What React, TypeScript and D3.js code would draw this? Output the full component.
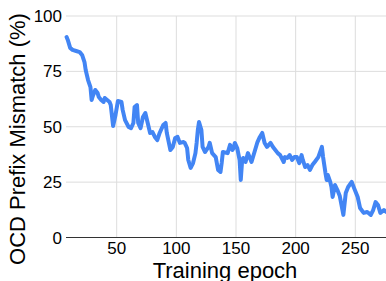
import React, { useEffect, useRef } from "react";
import * as d3 from "d3";

const epochs = [
  8, 9, 11, 13, 16, 19, 21, 23, 24, 25, 26, 28, 29, 30, 32, 34, 35, 37, 39, 40,
  42, 44, 45, 47, 49, 51, 54, 55, 57, 60, 62, 64, 65, 67, 68, 70, 72, 74, 76, 78,
  80, 82, 84, 86, 89, 91, 92, 95, 97, 99, 101, 102, 103, 106, 107, 109, 110, 112, 114, 116,
  117, 118, 119, 121, 122, 124, 127, 128, 130, 133, 135, 137, 138, 139, 143, 145, 147, 148, 149, 151,
  153, 154, 155, 156, 158, 160, 163, 164, 166, 168, 170, 172, 174, 176, 179, 181, 185, 187, 190, 191,
  193, 195, 197, 199, 201, 203, 205, 206, 208, 210, 212, 214, 216, 219, 222, 223, 225, 226, 227, 229,
  230, 231, 233, 235, 237, 240, 242, 244, 247, 249, 252, 254, 257, 260, 263, 265, 267, 269, 271, 274,
  276,
];
const mismatch = [
  90.5, 89.2, 85.6, 84.7, 84.2, 83.7, 82.4, 79.2, 75.6, 73.4, 71.1, 67.9, 62.1, 63.9, 66.6, 65.2, 63.4, 62.1, 61.2, 63.0,
  62.1, 61.2, 59.8, 50.3, 55.3, 61.6, 61.2, 57.6, 53.0, 49.9, 49.4, 51.7, 58.9, 59.8, 51.7, 49.4, 54.4, 56.2, 51.7, 47.2,
  47.6, 45.4, 44.0, 47.2, 50.8, 51.7, 47.2, 39.5, 40.9, 44.9, 45.4, 44.0, 42.7, 43.1, 42.7, 40.4, 35.0, 31.4, 33.6, 38.1,
  42.7, 48.5, 52.1, 48.5, 40.9, 38.6, 40.9, 42.7, 38.1, 36.3, 30.5, 29.6, 33.6, 38.6, 38.1, 41.8, 39.5, 40.4, 42.7, 40.4,
  35.0, 26.0, 33.6, 35.9, 34.1, 38.1, 34.1, 35.9, 39.5, 43.1, 45.4, 47.2, 42.7, 40.9, 42.7, 40.9, 38.1, 37.2, 34.1, 36.3,
  35.9, 37.2, 35.0, 36.3, 36.3, 33.6, 37.2, 35.0, 31.8, 32.7, 30.5, 32.7, 34.1, 36.3, 40.9, 36.3, 29.1, 26.0, 28.2, 25.1,
  22.8, 18.3, 23.7, 21.4, 18.7, 10.2, 20.1, 22.8, 25.1, 22.3, 18.3, 13.3, 11.1, 11.5, 10.2, 12.4, 16.0, 14.7, 11.1, 12.4,
  11.5,
];
const xTicks = [50, 100, 150, 200, 250];
const yTicks = [0, 25, 50, 75, 100];

const W = 386;
const H = 281;
const plotLeft = 66;
const plotRight = 386;
const plotTop = 16;
const plotBottom = 237.5;

const App = () => {
  const ref = useRef(null);

  const x = d3.scaleLinear().domain([50, 250]).range([116.7, 355.3]);
  const y = d3.scaleLinear().domain([0, 100]).range([plotBottom, plotTop]);

  useEffect(() => {
    const g = d3.select(ref.current);
    g.selectAll("*").remove();

    // horizontal grid
    g.selectAll("line.hgrid")
      .data(yTicks.filter((t) => t !== 0))
      .enter()
      .append("line")
      .attr("class", "hgrid")
      .attr("x1", plotLeft)
      .attr("x2", plotRight)
      .attr("y1", (d) => y(d))
      .attr("y2", (d) => y(d))
      .attr("stroke", "#dddddd")
      .attr("stroke-width", 1);

    // vertical grid
    g.selectAll("line.vgrid")
      .data(xTicks)
      .enter()
      .append("line")
      .attr("class", "vgrid")
      .attr("x1", (d) => x(d))
      .attr("x2", (d) => x(d))
      .attr("y1", plotTop)
      .attr("y2", plotBottom)
      .attr("stroke", "#dddddd")
      .attr("stroke-width", 1);

    // baseline
    g.append("line")
      .attr("x1", plotLeft)
      .attr("x2", plotRight)
      .attr("y1", y(0))
      .attr("y2", y(0))
      .attr("stroke", "#333333")
      .attr("stroke-width", 1);

    const data = epochs.map((e, i) => [e, mismatch[i]]);
    const line = d3
      .line()
      .x((d) => x(d[0]))
      .y((d) => y(d[1]));

    g.append("path")
      .datum(data)
      .attr("d", line)
      .attr("fill", "none")
      .attr("stroke", "#4285f4")
      .attr("stroke-width", 4)
      .attr("stroke-linejoin", "round")
      .attr("stroke-linecap", "round");

    // y tick labels
    g.selectAll("text.ytick")
      .data(yTicks)
      .enter()
      .append("text")
      .attr("class", "ytick")
      .attr("x", 62)
      .attr("y", (d) => y(d))
      .attr("dy", "0.36em")
      .attr("text-anchor", "end")
      .style("font-size", "17px")
      .text((d) => d);

    // x tick labels
    g.selectAll("text.xtick")
      .data(xTicks)
      .enter()
      .append("text")
      .attr("class", "xtick")
      .attr("x", (d) => x(d))
      .attr("y", 253.5)
      .attr("text-anchor", "middle")
      .style("font-size", "17px")
      .text((d) => d);

    g.append("text")
      .attr("x", 225)
      .attr("y", 277.5)
      .attr("text-anchor", "middle")
      .style("font-size", "22px")
      .text("Training epoch");

    g.append("text")
      .attr("transform", "translate(25,139) rotate(-90)")
      .attr("text-anchor", "middle")
      .style("font-size", "22px")
      .text("OCD Prefix Mismatch (%)");
  }, []);

  return (
    <svg
      width={W}
      height={H}
      style={{ position: "fixed", left: 0, top: 0, background: "#fff" }}
      fontFamily="'Liberation Sans', Arial, sans-serif"
    >
      <g ref={ref} fill="#000" />
    </svg>
  );
};

export default App;
